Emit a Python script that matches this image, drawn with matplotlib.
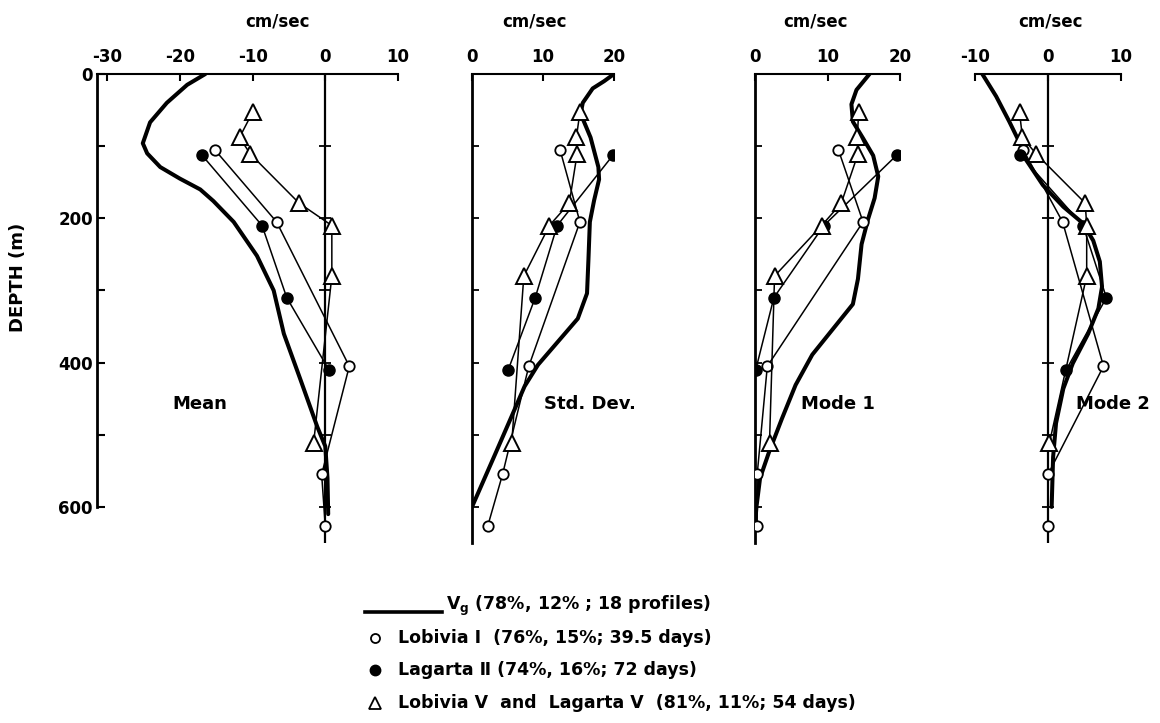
import numpy as np
import matplotlib
matplotlib.use("Agg")
import matplotlib.pyplot as plt
from matplotlib.lines import Line2D

plt.rcParams['font.family'] = ['DejaVu Sans']
plt.rcParams['font.weight'] = 'bold'
plt.rcParams['axes.labelweight'] = 'bold'
plt.rcParams['mathtext.default'] = 'bf'
plt.rcParams['axes.unicode_minus'] = False

# depths (m) of the current meter levels
lob1_depth = [105, 205, 405, 555, 627]
lag2_depth = [112, 210, 310, 410]
lob5_depth = [53, 88, 111, 179, 210, 280, 511]

# Mean
mean_vg_depth = [0, 15, 40, 67, 96, 110, 129, 145, 160, 176, 205, 252, 300, 360, 424, 489, 516, 560, 610]
mean_vg = [-16.5, -19.0, -21.8, -24.1, -25.1, -24.5, -22.7, -20.0, -17.2, -15.4, -12.6, -9.4, -7.1, -5.7, -3.4, -1.1, 0.0, 0.3, 0.4]
mean_lob1 = [-15.2, -6.7, 3.3, -0.5, 0.0]
mean_lag2 = [-17.0, -8.7, -5.3, 0.5]
mean_lob5 = [-10.0, -11.8, -10.3, -3.6, 0.9, 0.9, -1.6]

# Std. Dev.
std_vg_depth = [0, 10, 20, 40, 55, 88, 129, 146, 175, 205, 257, 304, 339, 371, 403, 433, 474, 526, 600]
std_vg = [20.0, 18.6, 17.0, 15.6, 15.3, 16.7, 17.8, 17.9, 17.2, 16.6, 16.4, 16.2, 14.9, 12.1, 9.3, 7.4, 5.6, 3.3, 0.0]
std_lob1 = [12.4, 15.2, 8.0, 4.3, 2.2]
std_lag2 = [19.9, 12.0, 8.9, 5.1]
std_lob5 = [15.2, 14.7, 14.8, 13.7, 10.9, 7.3, 5.6]

# Mode 1
m1_vg_depth = [0, 22, 42, 66, 89, 113, 142, 172, 201, 236, 284, 319, 354, 389, 431, 478, 525, 560, 600, 625]
m1_vg = [15.8, 14.0, 13.3, 13.5, 14.9, 16.3, 17.0, 16.5, 15.6, 14.7, 14.2, 13.5, 10.7, 7.9, 5.6, 3.7, 1.9, 0.7, 0.2, 0.0]
m1_lob1 = [11.5, 14.9, 1.7, 0.3, 0.3]
m1_lag2 = [19.6, 9.5, 2.6, 0.1]
m1_lob5 = [14.3, 14.1, 14.2, 11.9, 9.2, 2.7, 2.0]

# Mode 2
m2_vg_depth = [0, 31, 66, 95, 119, 154, 184, 207, 231, 260, 295, 325, 360, 401, 436, 484, 531, 600]
m2_vg = [-9.0, -7.1, -5.3, -3.9, -3.0, -0.7, 2.1, 4.8, 6.2, 7.1, 7.4, 6.9, 5.5, 3.4, 2.1, 1.1, 0.7, 0.5]
m2_lob1 = [-3.4, 2.0, 7.6, 0.0, 0.0]
m2_lag2 = [-3.8, 4.8, 8.0, 2.5]
m2_lob5 = [-3.9, -3.5, -1.6, 5.1, 5.3, 5.3, 0.2]

panel_names = ["Mean", "Std. Dev.", "Mode 1", "Mode 2"]
legend_labels = [r"V$_{\rm g}$ (78%, 12% ; 18 profiles)",
                 "Lobivia \u2160  (76%, 15%; 39.5 days)",
                 "Lagarta \u2161 (74%, 16%; 72 days)",
                 "Lobivia \u2164  and  Lagarta \u2164  (81%, 11%; 54 days)"]

W, H = 1160, 723
fig = plt.figure(figsize=(W / 100, H / 100), dpi=100)

def px_axes(x0, x1, y0=74, y1=543):
    return fig.add_axes([x0 / W, 1 - y1 / H, (x1 - x0) / W, (y1 - y0) / H])

panels = [
    dict(box=(97, 398), xlim=(-31.4, 10), xticks=[-30, -20, -10, 0, 10], lab=0.60,
         vg=(mean_vg, mean_vg_depth), obs=(mean_lob1, mean_lag2, mean_lob5), txt=-21.0),
    dict(box=(472, 614), xlim=(0, 20), xticks=[0, 10, 20], lab=0.44,
         vg=(std_vg, std_vg_depth), obs=(std_lob1, std_lag2, std_lob5), txt=10.1),
    dict(box=(755, 900), xlim=(0, 20), xticks=[0, 10, 20], lab=0.42,
         vg=(m1_vg, m1_vg_depth), obs=(m1_lob1, m1_lag2, m1_lob5), txt=6.3),
    dict(box=(975, 1121), xlim=(-10, 10), xticks=[-10, 0, 10], lab=0.52,
         vg=(m2_vg, m2_vg_depth), obs=(m2_lob1, m2_lag2, m2_lob5), txt=3.9),
]

tick_depths = [100, 200, 300, 400, 500, 600]
fs = 12

for i, p in enumerate(panels):
    ax = px_axes(*p['box'])
    ax.set_xlim(p['xlim'])
    ax.set_ylim(650, 0)
    ax.patch.set_visible(False)
    ax.xaxis.tick_top()
    ax.xaxis.set_label_position('top')
    ax.set_xticks(p['xticks'])
    ax.tick_params(axis='x', direction='in', length=5, width=1.5, pad=6, labelsize=fs)
    ax.set_xlabel("cm/sec", fontsize=fs, fontweight='bold')
    ax.xaxis.label.set_va('center')
    ax.xaxis.set_label_coords(p['lab'], 1.111)
    for s in ['right', 'bottom']:
        ax.spines[s].set_visible(False)
    ax.spines['top'].set_linewidth(1.5)
    ax.spines['left'].set_linewidth(2)

    if i == 0:
        ax.spines['left'].set_bounds(0, 600)
        ax.set_yticks([0, 200, 400, 600])
        ax.set_yticks([100, 300, 500], minor=True)
        ax.tick_params(axis='y', which='both', direction='in', length=6, width=1.5,
                       pad=3, labelsize=fs)
        ax.set_ylabel("DEPTH (m)", fontsize=13, fontweight='bold')
        ax.yaxis.label.set_va('center')
        ax.yaxis.set_label_coords(-0.262, 0.567)
    elif i == 3:
        ax.spines['left'].set_visible(False)
        ax.set_yticks([])
    else:
        ax.set_yticks(tick_depths)
        ax.tick_params(axis='y', direction='in', length=5, width=1.3, labelleft=False)

    if i in (0, 3):
        ax.plot([0, 0], [0, 650], color='k', lw=1.6, zorder=1)
        ax.plot(np.zeros(len(tick_depths)), tick_depths, ls='none', marker='_',
                ms=8, mew=1.3, color='k', zorder=1)

    vg, vgd = p['vg']
    lob1, lag2, lob5 = p['obs']
    ax.plot(vg, vgd, color='k', lw=2.9, solid_capstyle='round', zorder=3)
    ax.plot(lob1, lob1_depth, color='k', lw=1.1, marker='o', ms=7.5, mfc='white',
            mec='k', mew=1.3, zorder=4)
    ax.plot(lag2, lag2_depth, color='k', lw=1.1, marker='o', ms=8, mfc='k',
            mec='k', zorder=4)
    ax.plot(lob5, lob5_depth, color='k', lw=1.1, marker='^', ms=11, mfc='white',
            mec='k', mew=1.4, zorder=5)
    ax.text(p['txt'], 458, panel_names[i], fontsize=13, va='center', ha='left')

# legend drawn by hand in pixel positions
def fx(x):
    return x / W

def fy(y):
    return 1 - y / H

fig.add_artist(Line2D([fx(365), fx(442)], [fy(612), fy(612)], color='k', lw=2.6))
fig.add_artist(Line2D([fx(375)], [fy(638)], marker='o', ms=6.5, mfc='white', mec='k', mew=1.3))
fig.add_artist(Line2D([fx(375)], [fy(670)], marker='o', ms=7.5, mfc='k', mec='k'))
fig.add_artist(Line2D([fx(375)], [fy(703)], marker='^', ms=9, mfc='white', mec='k', mew=1.3))
fig.text(fx(446), fy(606), legend_labels[0], fontsize=12.5, va='center')
for lbl, y in zip(legend_labels[1:], [638, 670, 703]):
    fig.text(fx(398), fy(y), lbl, fontsize=12.5, va='center')

fig.savefig("out.png", dpi=100, facecolor='white')
